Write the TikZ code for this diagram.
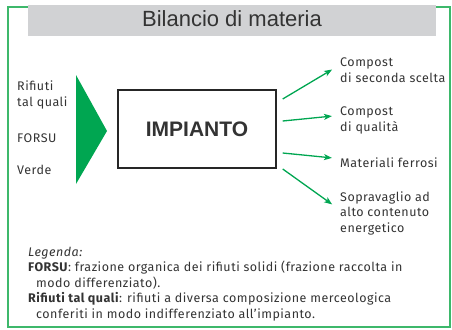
\documentclass[tikz,border=0pt]{standalone}
\usepackage{fontspec}
\setmainfont[LetterSpace=4]{Fira Sans}
\newfontfamily\headfont{Liberation Sans}
\usetikzlibrary{arrows.meta}
\definecolor{flowgreen}{HTML}{00A651}
\definecolor{framegreen}{HTML}{3DB86B}
\definecolor{bandgray}{HTML}{D1D2D4}
\definecolor{inkgray}{HTML}{333333}

\begin{document}
\begin{tikzpicture}[x=1pt,y=-1pt,>={Stealth[length=8pt,width=6pt,inset=2pt]},
  in label/.style={anchor=base west,inner sep=0pt,align=left,text=inkgray,
    font=\fontsize{12.5}{15.5}\selectfont},
  out label/.style={in label},
  flow/.style={->,draw=flowgreen,line width=1.3pt,shorten >=1pt},
  plant/.style={draw=black!85,line width=1.4pt,minimum width=158pt,
    minimum height=78pt,inner sep=0pt,text=inkgray,
    font=\headfont\bfseries\fontsize{21}{21}\selectfont}]

  \useasboundingbox (0,0) rectangle (452,329);

  % frame and title band
  \draw[framegreen,line width=1.4pt] (8,7) rectangle (450,327);
  \fill[bandgray] (28,5) rectangle (436,36);
  \node[anchor=base,inner sep=0pt,text=inkgray,
    font=\headfont\fontsize{22}{22}\selectfont] (title) at (232,27) {Bilancio di materia};

  % inputs (base = last line)
  \node[in label] (rifiuti) at (17,106) {Rifiuti\\tal quali};
  \node[in label] (forsu) at (17,142) {FORSU};
  \node[in label] (verde) at (17,174) {Verde};
  \fill[flowgreen] (76,75) -- (107,131) -- (76,184) -- cycle;

  \node[plant] (impianto) at (197,129) {IMPIANTO};

  % outputs
  \node[out label] (compost2) at (340,82) {Compost\\di seconda scelta};
  \node[out label] (compostq) at (340,131) {Compost\\di qualità};
  \node[out label] (ferrosi) at (340,167) {Materiali ferrosi};
  \node[out label] (sopra) at (340,232) {Sopravaglio ad\\alto contenuto\\energetico};

  \coordinate (e1) at (333,69);
  \coordinate (e2) at (333,116);
  \coordinate (e3) at (333,158);
  \coordinate (e4) at (333,205);

  \draw[flow] ([xshift=6pt,yshift=30pt]impianto.east) -- (e1);
  \draw[flow] ([xshift=6pt,yshift=8pt]impianto.east) -- (e2);
  \draw[flow] ([xshift=6pt,yshift=-24pt]impianto.east) -- (e3);
  \draw[flow] ([xshift=6pt,yshift=-40pt]impianto.east) -- (e4);

  % legend
  \node[in label] (legenda) at (28,318)
    {\textit{Legenda:}\\
     \textbf{FORSU}: frazione organica dei rifiuti solidi (frazione raccolta in\\
     \hspace*{8pt}modo differenziato).\\
     \textbf{Rifiuti tal quali}: rifiuti a diversa composizione merceologica\\
     \hspace*{8pt}conferiti in modo indifferenziato all’impianto.};
\end{tikzpicture}
\end{document}
